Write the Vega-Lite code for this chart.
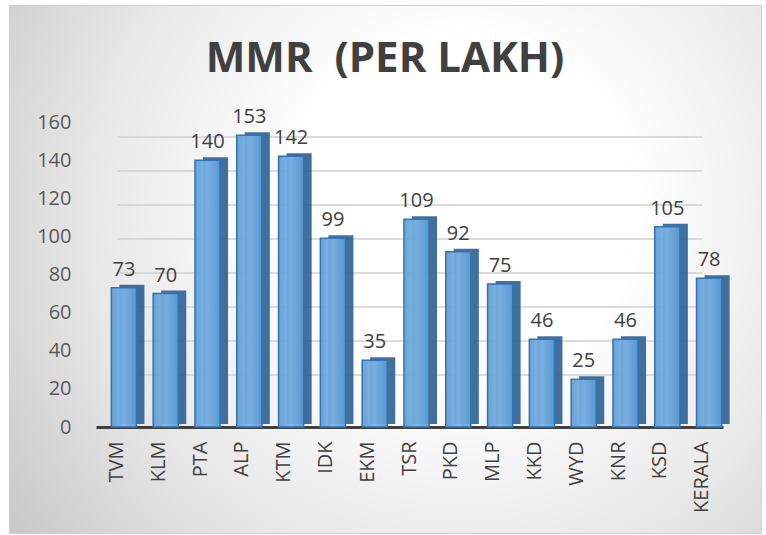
{
  "$schema": "https://vega.github.io/schema/vega-lite/v6.json",
  "width": 752,
  "height": 528,
  "autosize": {"type": "none"},
  "padding": {"left": 9, "top": 5, "right": 5, "bottom": 2},
  "background": "#ffffff",
  "config": {
    "font": "Open Sans",
    "view": {
      "stroke": "#d0d0d0",
      "strokeWidth": 1,
      "fill": {
        "gradient": "radial",
        "x1": 0.6, "y1": 0.42, "r1": 0,
        "x2": 0.6, "y2": 0.42, "r2": 0.75,
        "stops": [
          {"offset": 0, "color": "#ffffff"},
          {"offset": 0.3, "color": "#ffffff"},
          {"offset": 0.65, "color": "#e8e8e8"},
          {"offset": 1, "color": "#c6c6c6"}
        ]
      }
    }
  },
  "title": {
    "text": "MMR \u00a0(PER LAKH)",
    "fontSize": 42,
    "fontWeight": "bold",
    "color": "#404040",
    "anchor": "middle",
    "frame": "group",
    "baseline": "alphabetic",
    "offset": -67,
    "dy": 42
  },
  "datasets": {
    "mmr": [
      {"district": "TVM", "mmr": 73},
      {"district": "KLM", "mmr": 70},
      {"district": "PTA", "mmr": 140},
      {"district": "ALP", "mmr": 153},
      {"district": "KTM", "mmr": 142},
      {"district": "IDK", "mmr": 99},
      {"district": "EKM", "mmr": 35},
      {"district": "TSR", "mmr": 109},
      {"district": "PKD", "mmr": 92},
      {"district": "MLP", "mmr": 75},
      {"district": "KKD", "mmr": 46},
      {"district": "WYD", "mmr": 25},
      {"district": "KNR", "mmr": 46},
      {"district": "KSD", "mmr": 105},
      {"district": "KERALA", "mmr": 78}
    ],
    "grid": [
      {"v": 20}, {"v": 40}, {"v": 60}, {"v": 80},
      {"v": 100}, {"v": 120}, {"v": 140}, {"v": 160}
    ]
  },
  "encoding": {
    "x": {
      "field": "district",
      "type": "nominal",
      "sort": null,
      "scale": {
        "domain": ["TVM", "KLM", "PTA", "ALP", "KTM", "IDK", "EKM", "TSR", "PKD", "MLP", "KKD", "WYD", "KNR", "KSD", "KERALA"],
        "range": [87, 714],
        "paddingInner": 0,
        "paddingOuter": 0
      },
      "axis": {
        "title": null,
        "offset": -106,
        "labelAngle": -90,
        "labelAlign": "right",
        "labelBaseline": "middle",
        "labelFontSize": 20,
        "labelColor": "#404040",
        "labelPadding": 14,
        "ticks": false,
        "domainColor": "#404040",
        "domainWidth": 3
      }
    }
  },
  "layer": [
    {
      "data": {"name": "grid"},
      "mark": {"type": "rule", "color": "#d0d0d0", "strokeWidth": 1.5},
      "encoding": {
        "x": {"datum": "TVM", "type": "nominal"},
        "x2": {"datum": "KERALA"},
        "y": {
          "field": "v",
          "type": "quantitative",
          "scale": {"domain": [-10.6, 168.8], "range": [422, 117], "nice": false, "zero": false},
          "axis": null
        }
      }
    },
    {
      "data": {"name": "mmr"},
      "encoding": {
        "y": {
          "field": "mmr",
          "type": "quantitative",
          "scale": {"domain": [0, 160], "range": [422, 117], "nice": false},
          "axis": {
            "title": null,
            "offset": -84,
            "values": [0, 20, 40, 60, 80, 100, 120, 140, 160],
            "grid": false,
            "domain": false,
            "ticks": false,
            "labelPadding": 22,
            "labelFontSize": 20,
            "labelColor": "#595959"
          }
        }
      },
      "layer": [
        {
          "mark": {
            "type": "bar",
            "width": {"band": 0.6},
            "xOffset": 15,
            "yOffset": -3,
            "color": "#2f5f8f",
            "opacity": 0.9
          }
        },
        {
          "mark": {
            "type": "bar",
            "width": {"band": 0.6},
            "xOffset": 7,
            "fillOpacity": 0.92,
            "fill": {
              "gradient": "linear",
              "x1": 0, "y1": 0, "x2": 1, "y2": 0,
              "stops": [
                {"offset": 0, "color": "#5b9bd5"},
                {"offset": 0.5, "color": "#7db3e6"},
                {"offset": 1, "color": "#5b9bd5"}
              ]
            },
            "stroke": "#2e75b6",
            "strokeWidth": 1.5
          }
        },
        {
          "mark": {
            "type": "text",
            "xOffset": 7,
            "baseline": "bottom",
            "dy": -8,
            "fontSize": 20,
            "color": "#404040"
          },
          "encoding": {"text": {"field": "mmr", "type": "quantitative"}}
        }
      ]
    }
  ],
  "resolve": {"scale": {"y": "independent"}}
}
